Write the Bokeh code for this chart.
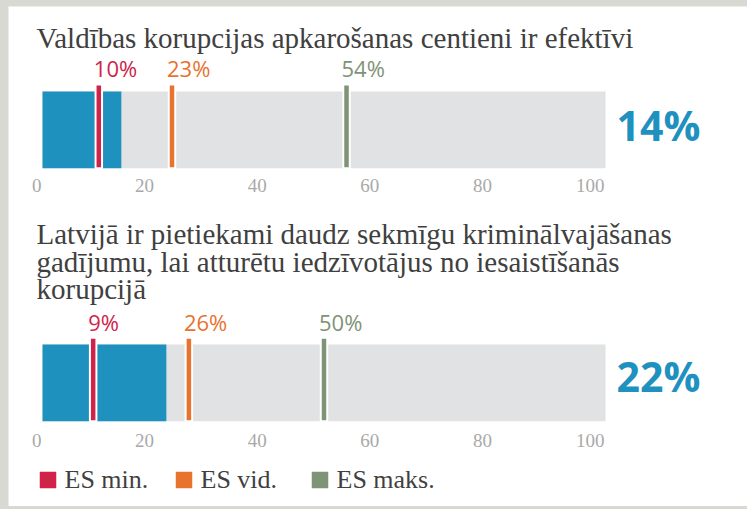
from bokeh.plotting import figure
from bokeh.models import Range1d, GlobalInlineStyleSheet
from bokeh.core.properties import value
from bokeh.embed import file_html
from bokeh.resources import INLINE

# ---------------- data ----------------
title_lines = [
    ["Valdības korupcijas apkarošanas centieni ir efektīvi"],
    ["Latvijā ir pietiekami daudz sekmīgu kriminālvajāšanas",
     "gadījumu, lai atturētu iedzīvotājus no iesaistīšanās",
     "korupcijā"],
]
latvia = [14, 22]
eu_min = [10, 9]
eu_avg = [23, 26]
eu_max = [54, 50]
ticks = [0, 20, 40, 60, 80, 100]
tick_labels = ["0", "20", "40", "60", "80", "100"]
legend_labels = ["ES min.", "ES vid.", "ES maks."]

# ---------------- styles ----------------
BLUE = "#1f91bf"
TRACK = "#e1e2e4"
RED = "#d0234a"
ORANGE = "#e8732f"
GREEN = "#7f9377"
TICK = "#a9a9a9"
TITLE = "#404040"
FRAME = "#d9d9d4"
marker_colors = [RED, ORANGE, GREEN]

SERIF = value("Liberation Serif")
SANS = value("Open Sans")
SERIF_SHIFT = 0.34   # baseline correction (em)
SANS_SHIFT = 0.43

FIG_LEFT, FIG_TOP = 8, 6
W, H = 747 - FIG_LEFT, 506 - FIG_TOP
PXU = 5.63          # screen px per percentage point
X0 = 42             # page x of value 0


def px(xpage):
    return (xpage - X0) / PXU


p = figure(width=W, height=H, output_backend="svg", toolbar_location=None,
           x_range=Range1d(px(FIG_LEFT), px(FIG_LEFT + W)),
           y_range=Range1d(FIG_TOP + H, FIG_TOP),
           min_border=0, outline_line_color=None,
           background_fill_color="white", border_fill_color="white")
p.axis.visible = False
p.grid.visible = False
p.stylesheets = [GlobalInlineStyleSheet(
    css=f"body{{background:{FRAME};margin:{FIG_TOP}px 0 0 {FIG_LEFT}px;padding:0;}}")]

# panel layout (page px, y downward)
panels = [
    dict(title_y=[47.5], label_y=77, mark_top=84, bar_top=91, bar_bot=167.7,
         tick_y=191.5, big_y=141.7),
    dict(title_y=[243.3, 271, 298.5], label_y=331, mark_top=337.3, bar_top=344,
         bar_bot=420.7, tick_y=446.5, big_y=393.3),
]

TS, LS, BS, KS, GS = 29, 22, 41, 19, 26   # font sizes

for i, pn in enumerate(panels):
    # title
    for line, ty in zip(title_lines[i], pn["title_y"]):
        p.text(x=[px(36)], y=[ty], text=[line], text_font=SERIF,
               text_font_size=f"{TS}px", text_color=TITLE,
               y_offset=-SERIF_SHIFT * TS,
               text_baseline="alphabetic", text_align="left")
    yc = (pn["bar_top"] + pn["bar_bot"]) / 2
    bh = pn["bar_bot"] - pn["bar_top"]
    # track + value bar
    p.hbar(y=[yc], left=[0], right=[100], height=bh, fill_color=TRACK,
           line_color=None)
    p.hbar(y=[yc], left=[0], right=[latvia[i]], height=bh, fill_color=BLUE,
           line_color=None)
    # EU markers
    vals = [eu_min[i], eu_avg[i], eu_max[i]]
    mc = (pn["mark_top"] + pn["bar_bot"]) / 2
    mh = pn["bar_bot"] - pn["mark_top"]
    p.rect(x=vals, y=[mc] * 3, width=6.5, width_units="screen", height=mh,
           fill_color=marker_colors, line_color="white", line_width=2)
    p.text(x=vals, y=[pn["label_y"]] * 3, text=[f"{v}%" for v in vals],
           x_offset=-5, y_offset=-SANS_SHIFT * LS, text_font=SANS,
           text_font_size=f"{LS}px",
           text_color=marker_colors, text_baseline="alphabetic",
           text_align="left")
    # big number
    p.text(x=[px(658)], y=[pn["big_y"]], text=[f"{latvia[i]}%"],
           y_offset=-SANS_SHIFT * BS,
           text_font=SANS, text_font_size=f"{BS}px", text_font_style="bold",
           text_color=BLUE, text_baseline="alphabetic", text_align="center")
    # tick labels
    p.text(x=ticks, y=[pn["tick_y"]] * len(ticks), text=tick_labels,
           x_offset=-1, y_offset=-SERIF_SHIFT * KS, text_font=SERIF,
           text_font_size=f"{KS}px",
           text_color=TICK, text_baseline="alphabetic", text_align="right")

# legend
leg_x0 = 47.5
leg_step = 136
for k, (lab, col) in enumerate(zip(legend_labels, marker_colors)):
    cx = leg_x0 + k * leg_step
    p.rect(x=[px(cx)], y=[479.5], width=16.5, height=16.5, width_units="screen",
           height_units="screen", fill_color=col, line_color=None)
    p.text(x=[px(cx + 16.5)], y=[487.5], text=[lab], text_font=SERIF,
           y_offset=-SERIF_SHIFT * GS,
           text_font_size=f"{GS}px", text_color=TITLE,
           text_baseline="alphabetic", text_align="left")

open("out.html", "w").write(file_html(p, INLINE))
